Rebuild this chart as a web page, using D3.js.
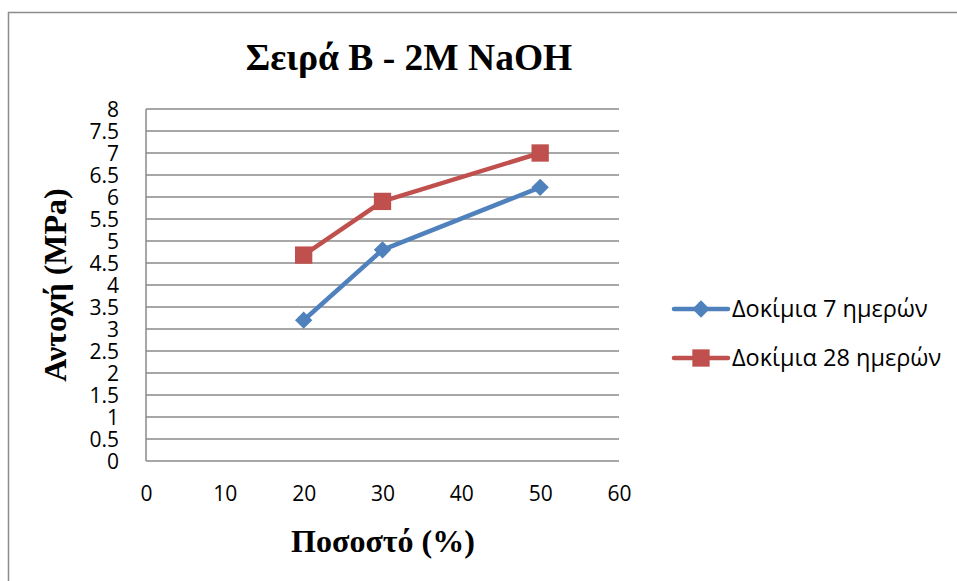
<!DOCTYPE html>
<html>
<head>
<meta charset="utf-8">
<script src="https://cdn.jsdelivr.net/npm/d3@7"></script>
<style>
  html, body { margin: 0; padding: 0; background: #fff; }
  svg { display: block; }
</style>
</head>
<body>
<svg id="chart" width="957" height="581"></svg>
<script>
// Percentage values on the x axis
const percentages = [20, 30, 50];
// Strength (MPa) at 7 and 28 days
const strength7 = [3.2, 4.8, 6.22];
const strength28 = [4.68, 5.9, 7.0];
const seriesNames = ["Δοκίμια 7 ημερών", "Δοκίμια 28 ημερών"];
const xTicks = [0, 10, 20, 30, 40, 50, 60];
const yTicks = [0, 0.5, 1, 1.5, 2, 2.5, 3, 3.5, 4, 4.5, 5, 5.5, 6, 6.5, 7, 7.5, 8];

const colors = ["#4F81BD", "#C0504D"];
const svg = d3.select("#chart");

// chart frame
svg.append("rect").attr("x", 8.5).attr("y", 12.5).attr("width", 1000).attr("height", 600)
  .attr("fill", "#fff").attr("stroke", "#8c8c8c").attr("stroke-width", 1.5);

const plot = { left: 146, right: 619, top: 109, bottom: 461 };
const x = d3.scaleLinear().domain([0, 60]).range([plot.left, plot.right]);
const y = d3.scaleLinear().domain([0, 8]).range([plot.bottom, plot.top]);

// horizontal gridlines
svg.append("g").selectAll("line").data(yTicks).join("line")
  .attr("x1", plot.left).attr("x2", plot.right)
  .attr("y1", d => y(d)).attr("y2", d => y(d))
  .attr("stroke", "#8a8a8a").attr("stroke-width", 1.5);

// left axis line
svg.append("line").attr("x1", plot.left).attr("x2", plot.left)
  .attr("y1", plot.top).attr("y2", plot.bottom)
  .attr("stroke", "#8a8a8a").attr("stroke-width", 1.5);

const tickFont = "'Open Sans', 'Noto Sans', sans-serif";

// y axis labels
const yAxis = d3.axisLeft(y).tickValues(yTicks).tickSize(0).tickPadding(0)
  .tickFormat(d => String(d));
const yg = svg.append("g").attr("transform", `translate(${plot.left - 27},0)`).call(yAxis);
yg.select(".domain").remove();
yg.selectAll("text").attr("font-family", tickFont).attr("font-size", 21).attr("fill", "#000")
  .attr("dy", "0.34em");

// x axis labels
const xAxis = d3.axisBottom(x).tickValues(xTicks).tickSize(0).tickPadding(0);
const xg = svg.append("g").attr("transform", `translate(0,${plot.bottom + 25})`).call(xAxis);
xg.select(".domain").remove();
xg.selectAll("text").attr("font-family", tickFont).attr("font-size", 21).attr("fill", "#000");

// titles
const serif = "'Liberation Serif', 'Times New Roman', serif";
svg.append("text").attr("x", 409).attr("y", 70).attr("text-anchor", "middle")
  .attr("font-family", serif).attr("font-weight", "bold").attr("font-size", 37.5)
  .text("Σειρά Β - 2Μ NaOH");
svg.append("text").attr("x", 383).attr("y", 552).attr("text-anchor", "middle")
  .attr("font-family", serif).attr("font-weight", "bold").attr("font-size", 32)
  .text("Ποσοστό (%)");
svg.append("text").attr("transform", "translate(66,285) rotate(-90)").attr("text-anchor", "middle")
  .attr("font-family", serif).attr("font-weight", "bold").attr("font-size", 32)
  .text("Αντοχή (MPa)");

const series = [strength7, strength28];
const line = d3.line().x(d => x(d[0])).y(d => y(d[1]));
const diamond = d3.symbol().type(d3.symbolSquare).size(150);
const square = d3.symbol().type(d3.symbolSquare).size(300);

series.forEach((vals, i) => {
  const pts = percentages.map((p, j) => [p, vals[j]]);
  svg.append("path").datum(pts).attr("d", line)
    .attr("fill", "none").attr("stroke", colors[i]).attr("stroke-width", 4.5)
    .attr("stroke-linejoin", "round").attr("stroke-linecap", "round");
  svg.append("g").selectAll("path").data(pts).join("path")
    .attr("d", i === 0 ? diamond : square)
    .attr("transform", d => `translate(${x(d[0])},${y(d[1])})` + (i === 0 ? " rotate(45)" : ""))
    .attr("fill", colors[i]);
});

// legend
const legendY = [309, 358];
seriesNames.forEach((name, i) => {
  const g = svg.append("g").attr("transform", `translate(0,${legendY[i]})`);
  g.append("line").attr("x1", 674).attr("x2", 728).attr("y1", 0).attr("y2", 0)
    .attr("stroke", colors[i]).attr("stroke-width", 4.5).attr("stroke-linecap", "round");
  g.append("path").attr("d", i === 0 ? diamond : square)
    .attr("transform", `translate(701,0)` + (i === 0 ? " rotate(45)" : ""))
    .attr("fill", colors[i]);
  g.append("text").attr("x", 732).attr("y", 0).attr("dy", "0.35em")
    .attr("font-family", tickFont).attr("font-size", 23.5).attr("fill", "#000")
    .text(name);
});
</script>
</body>
</html>
